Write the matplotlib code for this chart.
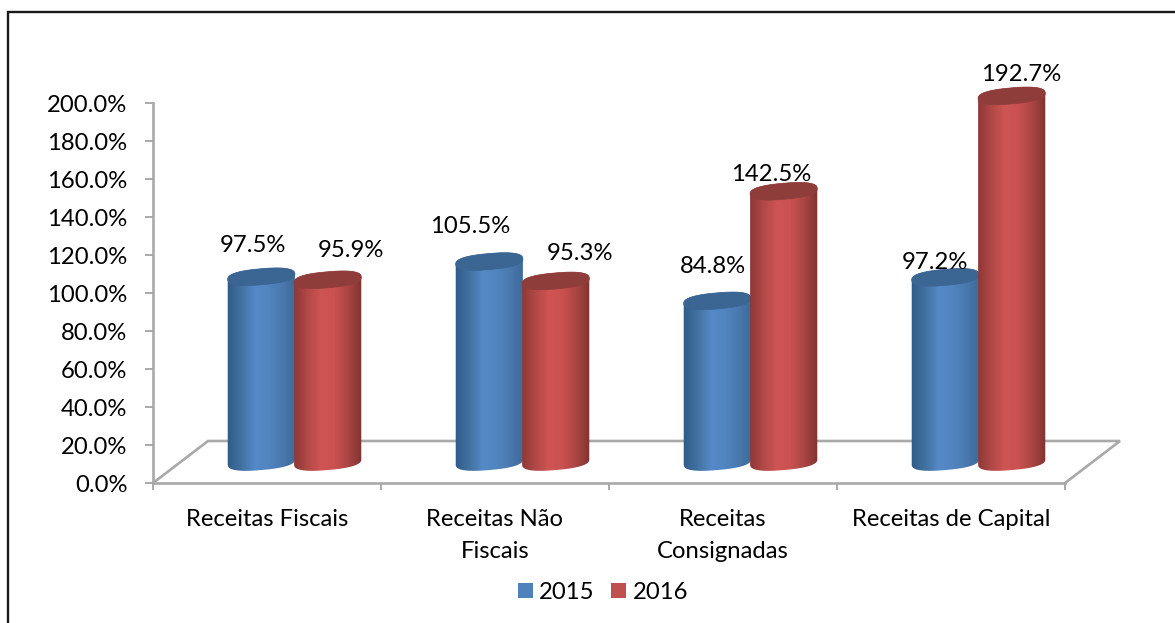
import numpy as np
import matplotlib
matplotlib.use("Agg")
import matplotlib.pyplot as plt
from matplotlib.path import Path
from matplotlib.patches import PathPatch, Patch
from matplotlib.lines import Line2D
from matplotlib.colors import LinearSegmentedColormap

categories = ["Receitas Fiscais", "Receitas Não\nFiscais", "Receitas\nConsignadas", "Receitas de Capital"]
years = ["2015", "2016"]
values_2015 = [97.5, 105.5, 84.8, 97.2]
values_2016 = [95.9, 95.3, 142.5, 192.7]
y_ticks = [0, 20, 40, 60, 80, 100, 120, 140, 160, 180, 200]

# manual label offsets (pixels, relative to cylinder top centre)
label_off_2015 = [(-8, 31), (-19, 35), (-4, 34), (-10, 15)]
label_off_2016 = [(23, 29), (24, 27), (-13, 17), (9, 21)]

W, H = 1175, 623
plt.rcParams['font.family'] = ['Lato', 'DejaVu Sans']
FS = 17.2
fig = plt.figure(figsize=(W / 100, H / 100), dpi=100)
fig.patch.set_facecolor('white')
# chart frame: only the top and left edges are inside the picture
fig.add_artist(Line2D([8 / W, 8 / W, 1], [0, 1 - 12 / H, 1 - 12 / H], transform=fig.transFigure,
                      color='#1a1a1a', lw=1.7, solid_joinstyle='miter'))
y_top = 220  # headroom above the 200 % tick so the tallest cylinder is not cut
ax = fig.add_axes([153 / W, 1 - 483 / H, 912 / W, y_top * 1.9 / H])
ax.set_xlim(0, 4)
ax.set_ylim(0, y_top)
ax.patch.set_alpha(0)
px, py = 4 / 912, 200 / 380  # data units per pixel

grey = '#a9a9a9'
for s in ('top', 'right'):
    ax.spines[s].set_visible(False)
for s in ('left', 'bottom'):
    ax.spines[s].set_color(grey)
    ax.spines[s].set_linewidth(1.9)
ax.spines['left'].set_bounds(0, 200)

# floor
dx, dy = 55 * px, 42 * py
ax.plot([0, dx, 4 + dx, 4], [0, dy, dy, 0], color=grey, lw=1.9, clip_on=False, zorder=1, solid_joinstyle='miter')

ax.set_yticks(y_ticks)
ax.set_yticklabels([f"{v:.1f}%" for v in y_ticks], fontsize=FS, color='#000000')
ax.tick_params(axis='y', length=5.5, width=1.4, color=grey, pad=13)
ax.set_xticks(range(5))
ax.set_xticklabels([])
ax.tick_params(axis='x', which='major', length=5, width=1.4, color=grey)
ax.set_xticks(np.arange(4) + 0.5, minor=True)
ax.set_xticklabels(categories, minor=True, fontsize=FS, color='#000000', linespacing=1.65)
ax.tick_params(axis='x', which='minor', length=0, pad=18.7)

a, b, theta = 33.7, 8.0, np.deg2rad(5)
half_sep = 33.2


def spow(u, p=0.8):
    return np.sign(u) * np.abs(u) ** p


def ell(cx, cy, t):
    c, s = spow(np.cos(t)), spow(np.sin(t))
    ex = a * c * np.cos(theta) - b * s * np.sin(theta)
    ey = a * c * np.sin(theta) + b * s * np.cos(theta)
    return cx + ex * px, cy + ey * py


def cylinder(cx, v, stops, top_color, z):
    base = dy / 2
    top = v + base
    tl = np.linspace(np.pi, 2 * np.pi, 80)
    tu = np.linspace(0, np.pi, 80)
    bx, by = ell(cx, base, tl)
    ux, uy = ell(cx, top, tu)
    verts = np.column_stack([np.r_[bx, ux], np.r_[by, uy]])
    body = PathPatch(Path(np.vstack([verts, verts[0]]), closed=True), fc='none', ec='none',
                     transform=ax.transData, zorder=z)
    ax.add_patch(body)
    cmap = LinearSegmentedColormap.from_list('g', stops)
    im = ax.imshow(np.linspace(0, 1, 256)[None, :], cmap=cmap, aspect='auto', interpolation='bilinear',
                   extent=[cx - (a + 1) * px, cx + (a + 1) * px, base - 10 * py, top + 10 * py],
                   zorder=z + 0.1)
    im.set_clip_path(body)
    tx, ty = ell(cx, top, np.linspace(0, 2 * np.pi, 160))
    ax.fill(tx, ty, color=top_color, lw=0.5, zorder=z + 0.2)
    return top


blue_stops = ['#2f5a8a', '#41719f', '#5589c8', '#5085c0', '#4a78ad', '#3c6898']
red_stops = ['#8a3735', '#b04846', '#cf5553', '#c9514f', '#a84543', '#7c3230']

for i, c in enumerate(categories):
    center = i + 0.5 + dx / 2
    for j, (vals, offs, stops, tc) in enumerate([
        (values_2015, label_off_2015, blue_stops, '#3b6593'),
        (values_2016, label_off_2016, red_stops, '#8f3d3b'),
    ]):
        cx = center + (j * 2 - 1) * half_sep * px
        top = cylinder(cx, vals[i], stops, tc, 3 + i + j * 0.5)
        ax.annotate(f"{vals[i]:.1f}%", xy=(cx, top), xytext=offs[i], textcoords='offset pixels',
                    ha='center', va='center', fontsize=FS, color='#000000', zorder=20, annotation_clip=False)

ax.set_xlim(0, 4)
ax.set_ylim(0, y_top)

handles = [Patch(fc='#4f81bd', ec='none', label=years[0]), Patch(fc='#c0504d', ec='none', label=years[1])]
fig.legend(handles=handles, loc='center', bbox_to_anchor=(603 / W, 1 - 592.5 / H), ncol=2, frameon=False,
           fontsize=FS, handlelength=0.63, handleheight=0.63, handletextpad=0.27, columnspacing=0.7,
           borderpad=0, borderaxespad=0)

fig.savefig('out.png', dpi=100)
